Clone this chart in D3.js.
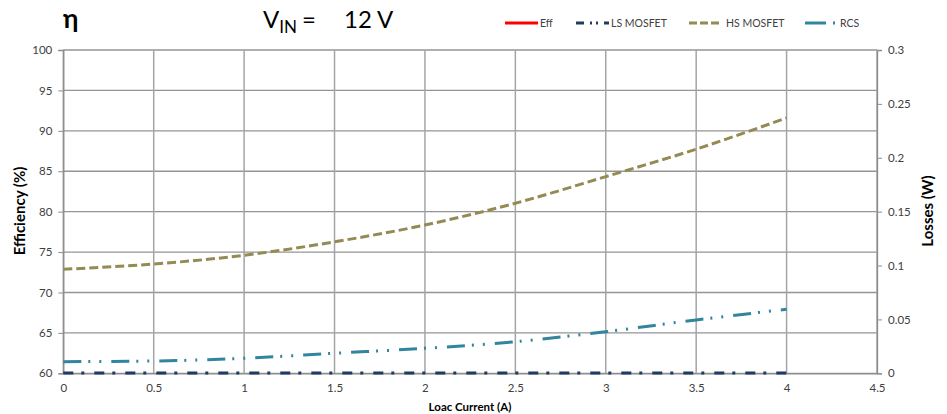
<!DOCTYPE html>
<html lang="en">
<head>
<meta charset="utf-8">
<script src="https://d3js.org/d3.v7.min.js"></script>
<title>Efficiency and losses</title>
<style>
    body { margin: 0; background: #fff; }
    text { font-family: Lato, "Liberation Sans", sans-serif; }
    .tick text { fill: #404040; font-size: 11.5px; }
</style>
</head>
<body>
<div id="container"></div>
<script>
    // data
    var current = [0, 0.5, 1, 1.5, 2, 2.5, 3, 3.5, 4];
    var effValues = [];   // not visible in the chart
    var lsLoss  = [0.0003, 0.0003, 0.0003, 0.0003, 0.0003, 0.0003, 0.0003, 0.0003, 0.0003];
    var hsLoss  = [0.0965, 0.1014, 0.1095, 0.122, 0.1376, 0.1578, 0.1825, 0.208, 0.237];
    var rcsLoss = [0.0108, 0.0114, 0.0139, 0.0186, 0.0232, 0.0293, 0.0386, 0.0495, 0.0594];
    var xTicks = [0, 0.5, 1, 1.5, 2, 2.5, 3, 3.5, 4, 4.5];
    var effTicks = [60, 65, 70, 75, 80, 85, 90, 95, 100];
    var lossTicks = [0, 0.05, 0.1, 0.15, 0.2, 0.25, 0.3];
    var legendNames = ["Eff", "LS MOSFET", "HS MOSFET", "RCS"];

    var W = 947, H = 414;
    var pLeft = 63.3, pRight = 877, pTop = 50, pBottom = 373.3;

    var svg = d3.select("#container").append("svg")
        .attr("width", W).attr("height", H);

    var x = d3.scaleLinear().domain([0, 4.5]).range([pLeft, pRight]);
    var yEff = d3.scaleLinear().domain([60, 100]).range([pBottom, pTop]);
    var yLoss = d3.scaleLinear().domain([0, 0.3]).range([pBottom, pTop]);

    // grid
    svg.append("g").selectAll("line").data(effTicks).enter().append("line")
        .attr("x1", pLeft).attr("x2", pRight)
        .attr("y1", function(d) { return yEff(d); })
        .attr("y2", function(d) { return yEff(d); })
        .attr("stroke", "#959595").attr("stroke-width", 1.3);
    svg.append("g").selectAll("line").data(xTicks).enter().append("line")
        .attr("x1", function(d) { return x(d); })
        .attr("x2", function(d) { return x(d); })
        .attr("y1", pTop).attr("y2", pBottom)
        .attr("stroke", "#a5a5a5").attr("stroke-width", 1.5);

    // axes
    var gl = svg.append("g").attr("transform", "translate(" + pLeft + ",0)")
        .call(d3.axisLeft(yEff).tickValues(effTicks).tickSize(5).tickPadding(6));
    var gr = svg.append("g").attr("transform", "translate(" + pRight + ",0)")
        .call(d3.axisRight(yLoss).tickValues(lossTicks).tickSize(5).tickPadding(6)
            .tickFormat(function(d) { return String(+d.toFixed(2)); }));
    var gb = svg.append("g").attr("transform", "translate(0," + pBottom + ")")
        .call(d3.axisBottom(x).tickValues(xTicks).tickSize(0).tickPadding(11)
            .tickFormat(function(d) { return String(d); }));
    [gl, gr, gb].forEach(function(g) {
        g.select(".domain").attr("stroke", "#8c8c8c").attr("stroke-width", 1.3);
        g.selectAll(".tick line").attr("stroke", "#8c8c8c");
    });

    // series
    var series = [
        {name: "Eff", values: effValues, y: yEff, color: "#ff0000", dash: null},
        {name: "LS MOSFET", values: lsLoss, y: yLoss, color: "#1f3b63", dash: "10,8,3,10"},
        {name: "HS MOSFET", values: hsLoss, y: yLoss, color: "#948a54", dash: "9,4"},
        {name: "RCS", values: rcsLoss, y: yLoss, color: "#31859c", dash: "18,7,2,9,2,10"}
    ];
    series.forEach(function(s) {
        if (!s.values.length) return;
        var pts = s.values.map(function(v, i) { return [current[i], v]; });
        svg.append("path").datum(pts)
            .attr("fill", "none")
            .attr("stroke", s.color)
            .attr("stroke-width", 3)
            .attr("stroke-dasharray", s.dash)
            .attr("d", d3.line()
                .curve(d3.curveMonotoneX)
                .x(function(d) { return x(d[0]); })
                .y(function(d) { return s.y(d[1]); }));
    });

    // legend
    var legX = [505, 576, 689, 805];
    var legDash = [null, "8,6,2,4,2,6", "8,3", "21,7,2,10"];
    series.forEach(function(s, i) {
        var g = svg.append("g").attr("transform", "translate(" + legX[i] + ",23)");
        g.append("line").attr("x1", 0).attr("x2", 33).attr("y1", 0).attr("y2", 0)
            .attr("stroke", s.color).attr("stroke-width", 3)
            .attr("stroke-dasharray", legDash[i]);
        g.append("text").attr("x", i === 2 ? 37 : 35).attr("y", 4)
            .attr("font-size", "10.5px").attr("fill", "#404040")
            .text(legendNames[i]);
    });

    // titles
    svg.append("text").attr("x", 63).attr("y", 28)
        .attr("font-size", "26px").attr("font-weight", "bold").text("η");
    var vin = svg.append("text").attr("x", 263).attr("y", 28).attr("font-size", "24px");
    vin.append("tspan").text("V");
    vin.append("tspan").attr("font-size", "17px").attr("dy", 5).text("IN");
    vin.append("tspan").attr("dy", -5).attr("dx", 5).text("=");
    vin.append("tspan").attr("x", 344).text("12 V");

    svg.append("text")
        .attr("transform", "translate(25,211) rotate(-90)")
        .attr("text-anchor", "middle").attr("font-size", "15px").attr("font-weight", "bold")
        .text("Efficiency (%)");
    svg.append("text")
        .attr("transform", "translate(933,211) rotate(-90)")
        .attr("text-anchor", "middle").attr("font-size", "15px").attr("font-weight", "bold")
        .text("Losses (W)");
    svg.append("text")
        .attr("x", 470).attr("y", 411)
        .attr("text-anchor", "middle").attr("font-size", "11.5px").attr("font-weight", "bold")
        .text("Loac Current (A)");
</script>
</body>
</html>
